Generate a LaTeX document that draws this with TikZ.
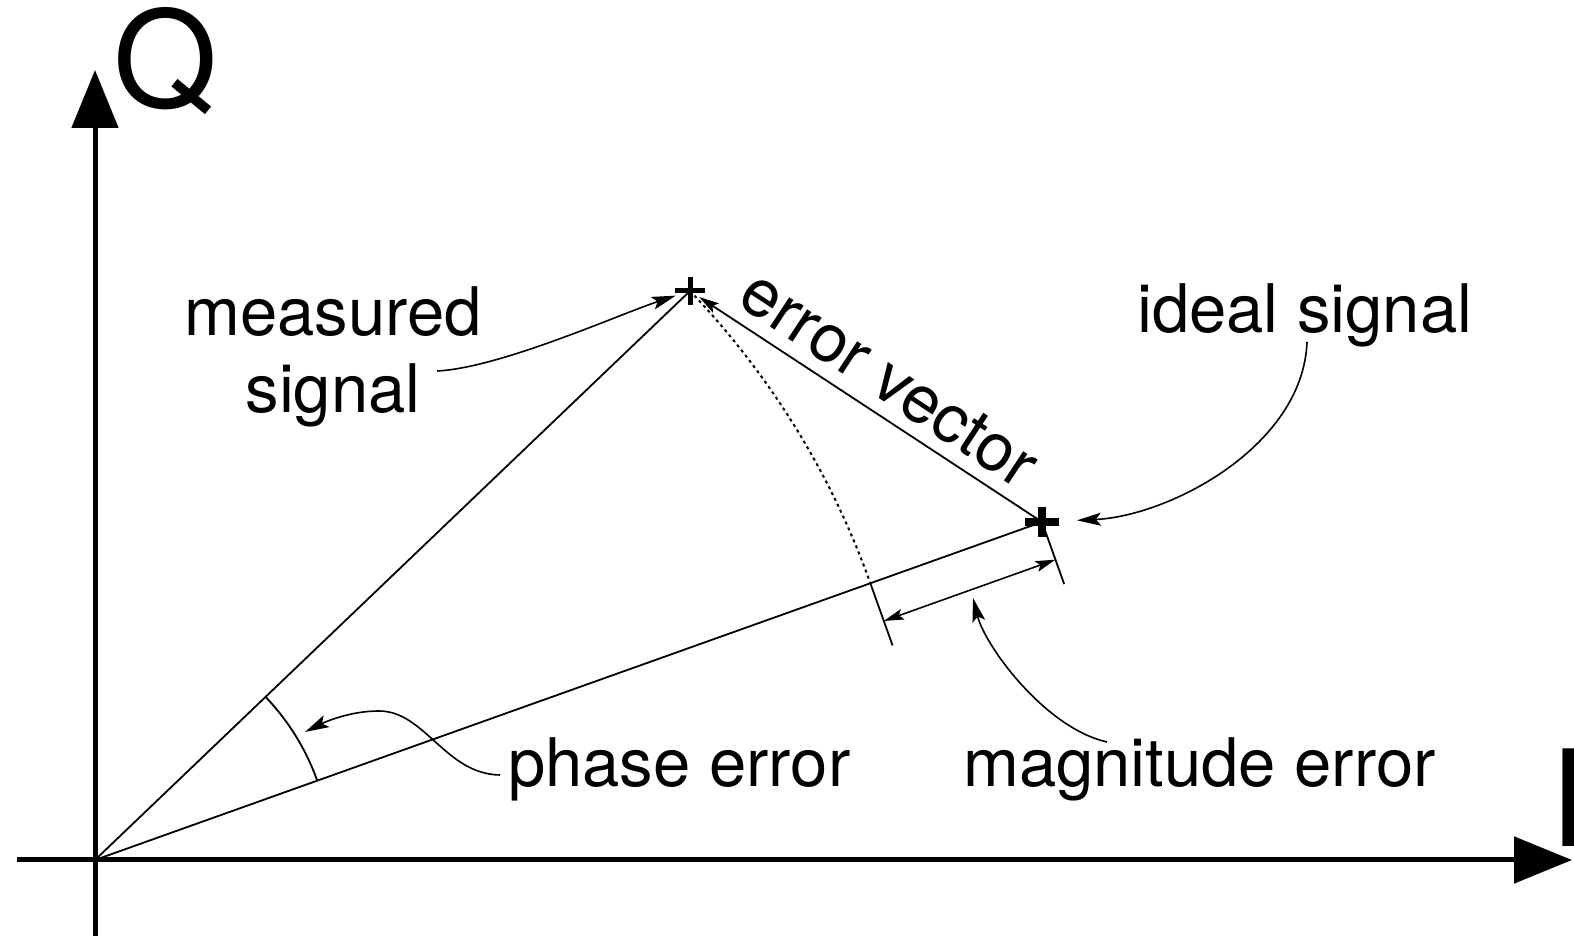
\documentclass[tikz,border=0pt]{standalone}
\usepackage{fontspec}
\setmainfont{TeX Gyre Heros}
\usetikzlibrary{arrows.meta,calc}

\begin{document}
\begin{tikzpicture}[x=1pt,y=1pt,
  axis/.style={line width=5pt,-{Triangle[length=58pt,width=46pt]}},
  ray/.style={line width=1.8pt},
  pointer/.style={line width=1.6pt,-{Stealth[length=24pt,width=13pt,inset=5pt]}},
  dim/.style={line width=1.6pt,{Stealth[length=20pt,width=11pt,inset=4pt]}-{Stealth[length=20pt,width=11pt,inset=4pt]}},
  lbl/.style={inner sep=0pt,font=\fontsize{67}{77}\selectfont},
  axlbl/.style={inner sep=0pt,font=\fontsize{134}{140}\selectfont},
]
\fill[white] (0,0) rectangle (1574,936);
\useasboundingbox (0,0) rectangle (1574,936);

% key points: origin, measured and ideal signal
\coordinate (O) at (95,76);
\coordinate (M) at (690,645);
\coordinate (S) at (1042,414);

% I/Q axes
\coordinate (Ibeg) at (17,76);
\coordinate (Iend) at (1572,76);
\coordinate (Qbeg) at (95,0);
\coordinate (Qend) at (95,866);
\draw[axis] (Ibeg) -- (Iend);
\draw[axis] (Qbeg) -- (Qend);
\node[axlbl, anchor=base west] (Q) at (113,828) {Q};
\node[axlbl, anchor=base west] (I) at (1549,89) {I};

% signal vectors
\draw[ray] (O) -- (M);
\draw[ray] (O) -- (S);
\draw[ray, -{Stealth[length=20pt,width=11pt,inset=4pt]}, shorten >=11pt] (S) -- (M);

% phase angle arc
\draw[ray] ($(O)+(43.72:236)$) arc[start angle=43.72, end angle=19.64, radius=236];

% measured magnitude swung onto the ideal direction
\draw[line width=2pt, dash pattern=on 3pt off 3.5pt] (M) arc[start angle=43.72, end angle=19.64, radius=823.3];

% magnitude error dimension
\coordinate (P1) at ($(O)+(19.64:823.3)$);
\coordinate (P1t) at ($(P1)!66pt!-90:(S)$);
\coordinate (St) at ($(S)!66pt!90:(O)$);
\draw[ray] (P1) -- (P1t);
\draw[ray] (S) -- (St);
\coordinate (D1) at ($(P1)!40pt!-90:(S)$);
\coordinate (D2) at ($(S)!40pt!90:(O)$);
\draw[dim] (D1) -- (D2);

% labels
\node[lbl, align=center] (ms) at (333,579) {measured\\signal};
\node[lbl, anchor=base west] (is) at (1137,603) {ideal signal};
\node[lbl, anchor=base west] (pe) at (508,149) {phase error};
\node[lbl, anchor=base west] (me) at (963,149) {magnitude error};
\coordinate (evmid) at ($(M)!0.51!(S)$);
\node[lbl, anchor=base, rotate=-33.27] (ev) at ($(evmid)!14pt!90:(S)$) {error vector};

% label pointers
\coordinate (msT) at ($(ms.center)+(104,-14)$);
\draw[pointer, shorten >=15pt] (msT) .. controls (500,568) and (620,622) .. (M);

\coordinate (isT) at ($(is.base west)+(170,-9)$);
\draw[pointer, shorten >=35pt] (isT) .. controls (1303,490) and (1170,420) .. (S);

\coordinate (peT) at ($(pe.base west)+(-8,12)$);
\coordinate (peTip) at (305,204);
\draw[pointer] (peT) .. controls (445,162) and (425,225) .. (379,225)
  .. controls (350,225) and (325,214) .. (peTip);

\coordinate (meT) at ($(me.base west)+(144,45)$);
\coordinate (meTip) at (973,338);
\draw[pointer] (meT) .. controls (1045,208) and (985,290) .. (meTip);

% point markers
\draw[line width=5pt] ($(M)+(-15,0)$) -- ($(M)+(15,0)$) ($(M)+(0,-14)$) -- ($(M)+(0,14)$);
\draw[line width=8pt] ($(S)+(-17,0)$) -- ($(S)+(17,0)$) ($(S)+(0,-15)$) -- ($(S)+(0,15)$);
\end{tikzpicture}
\end{document}
